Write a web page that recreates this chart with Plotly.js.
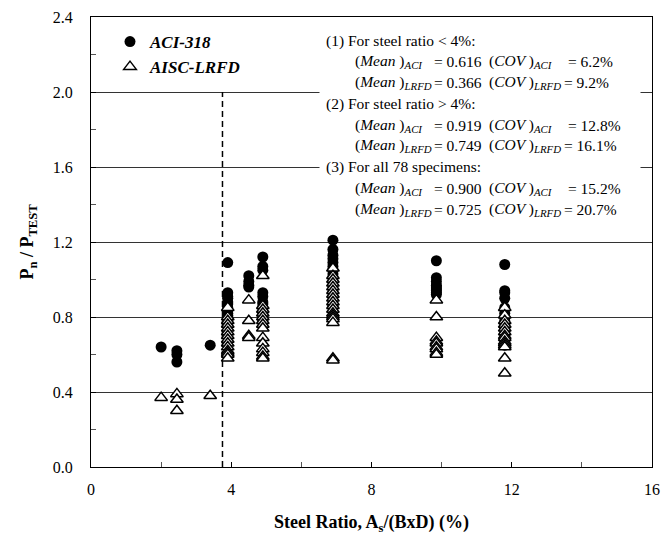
<!DOCTYPE html>
<html>
<head>
<meta charset="utf-8">
<script src="https://cdn.plot.ly/plotly-3.0.1.min.js"></script>
<style>html,body{margin:0;padding:0;background:#fff;}#chart{width:665px;height:538px;}</style>
</head>
<body>
<div id="chart"></div>
<script>
// ---- data ----
const groupRatio = [2.0, 2.45, 3.4, 3.9, 4.5, 4.9, 6.9, 9.85, 11.8];
const aciValues = [
  [0.64],
  [0.62, 0.60, 0.56],
  [0.65],
  [1.09, 0.93, 0.91, 0.90, 0.88, 0.87, 0.85, 0.84, 0.82, 0.81, 0.80, 0.79, 0.78, 0.77],
  [1.02, 0.99, 0.97, 0.96],
  [1.12, 1.07, 1.05, 0.93, 0.91, 0.88, 0.87, 0.85, 0.83, 0.82, 0.80, 0.79, 0.78, 0.77],
  [1.21, 1.16, 1.13, 1.11, 1.09, 1.07, 1.05, 1.03, 1.01, 0.99, 0.97, 0.95, 0.93, 0.91, 0.89, 0.87, 0.86, 0.85],
  [1.10, 1.01, 0.99, 0.97, 0.96, 0.95, 0.94, 0.93, 0.92],
  [1.08, 0.94, 0.93, 0.90, 0.85, 0.82, 0.80, 0.78, 0.76, 0.74, 0.72, 0.70, 0.67, 0.65]
];
const lrfdValues = [
  [0.37],
  [0.39, 0.36, 0.30],
  [0.38],
  [0.85, 0.80, 0.78, 0.76, 0.74, 0.72, 0.70, 0.68, 0.66, 0.64, 0.62, 0.61, 0.60, 0.58],
  [0.89, 0.78, 0.70, 0.69],
  [1.02, 0.86, 0.84, 0.82, 0.80, 0.78, 0.76, 0.74, 0.69, 0.66, 0.63, 0.61, 0.59, 0.58],
  [1.06, 1.02, 1.00, 0.98, 0.96, 0.94, 0.92, 0.90, 0.88, 0.86, 0.84, 0.82, 0.81, 0.80, 0.79, 0.77, 0.58, 0.57],
  [0.89, 0.80, 0.69, 0.67, 0.66, 0.64, 0.63, 0.61, 0.60],
  [0.85, 0.81, 0.78, 0.76, 0.74, 0.72, 0.70, 0.69, 0.67, 0.66, 0.65, 0.64, 0.58, 0.50]
];
const dividerX = [3.75, 3.75];
const dividerY = [0, 2.0];
const seriesNames = ['ACI-318', 'AISC-LRFD'];
const xTicks = [0, 4, 8, 12, 16];
const yTicks = [0, 0.4, 0.8, 1.2, 1.6, 2.0, 2.4];
const groupHeadings = ['(1) For steel ratio < 4%:', '(2) For steel ratio > 4%:', '(3) For all 78 specimens:'];
const meanACI = ['0.616', '0.919', '0.900'];
const meanLRFD = ['0.366', '0.749', '0.725'];
const covACI = ['6.2%', '12.8%', '15.2%'];
const covLRFD = ['9.2%', '16.1%', '20.7%'];

// ---- flatten ----
function flatten(vals) {
  const xs = [], ys = [];
  vals.forEach((g, i) => g.forEach(v => { xs.push(groupRatio[i]); ys.push(v); }));
  return {xs, ys};
}
const aci = flatten(aciValues);
const lrfd = flatten(lrfdValues);

const FONT = 'Liberation Serif, Times New Roman, serif';

const traces = [
  {x: dividerX, y: dividerY, mode: 'lines', showlegend: false, hoverinfo: 'skip',
   line: {color: '#000', width: 1.5, dash: '6px,4px'}},
  {x: aci.xs, y: aci.ys, mode: 'markers', name: seriesNames[0],
   marker: {symbol: 'circle', size: 11, color: '#000'}},
  {x: lrfd.xs, y: lrfd.ys, mode: 'markers', name: seriesNames[1],
   marker: {symbol: 'triangle-up', size: 11, color: '#fff', line: {color: '#000', width: 1.5}}}
];

// plot area in pixels
const L = 91, R = 652, T = 17, B = 467;
const px = x => (x - L) / (R - L);
const py = y => (B - y) / (B - T);

const annFont = {family: FONT, size: 15.5, color: '#000'};
const annotations = [{
  xref: 'paper', yref: 'paper', x: px(319), y: py(27), xanchor: 'left', yanchor: 'top',
  text: ' ', showarrow: false, width: 320, height: 196, bgcolor: '#fff', borderpad: 0
}];
function addText(text, xpx, ypx) {
  annotations.push({xref: 'paper', yref: 'paper', x: px(xpx), y: py(ypx),
    xanchor: 'left', yanchor: 'middle', text: text, showarrow: false, font: annFont});
}
groupHeadings.forEach((h, i) => {
  const y0 = 41 + 63 * i;
  addText(h, 324, y0);
  addText('(<i>Mean </i>)<sub><i>ACI</i></sub>', 353, y0 + 21);
  addText('= ' + meanACI[i], 432, y0 + 21);
  addText('(<i>COV </i>)<sub><i>ACI</i></sub>', 487, y0 + 21);
  addText('= ' + covACI[i], 566, y0 + 21);
  addText('(<i>Mean </i>)<sub><i>LRFD</i></sub>', 353, y0 + 42);
  addText('= ' + meanLRFD[i], 432, y0 + 42);
  addText('(<i>COV </i>)<sub><i>LRFD</i></sub>', 487, y0 + 42);
  addText('= ' + covLRFD[i], 562, y0 + 42);
});

const layout = {
  width: 665, height: 538,
  margin: {l: L, r: 665 - R, t: T, b: 538 - B, pad: 0},
  paper_bgcolor: '#fff', plot_bgcolor: '#fff',
  font: {family: FONT, color: '#000', size: 16},
  showlegend: true,
  legend: {x: px(110), y: py(24), xanchor: 'left', yanchor: 'top', bgcolor: 'rgba(0,0,0,0)',
    font: {family: FONT, size: 17, weight: 'bold', style: 'italic', color: '#000'},
    tracegroupgap: 0, itemwidth: 30},
  xaxis: {
    range: [0, 16], tickmode: 'array', tickvals: xTicks, ticktext: xTicks.map(String),
    ticks: 'inside', ticklen: 5, tickcolor: '#000',
    minor: {dtick: 2, tick0: 0, ticks: 'inside', ticklen: 5, tickcolor: '#555', showgrid: false},
    showgrid: false, zeroline: false, showline: true, linecolor: '#000', linewidth: 1, mirror: true,
    tickfont: {family: FONT, size: 16, color: '#000'}, ticklabelstandoff: 8,
    title: {text: '<b>Steel Ratio, A<sub>s</sub>/(BxD) (%)</b>', font: {family: FONT, size: 18, color: '#000'}, standoff: 18}
  },
  yaxis: {
    range: [0, 2.4], tickmode: 'array', tickvals: yTicks, ticktext: yTicks.map(v => v.toFixed(1)),
    ticks: 'inside', ticklen: 5, tickcolor: '#000',
    minor: {dtick: 0.2, tick0: 0, ticks: 'inside', ticklen: 5, tickcolor: '#555', showgrid: false},
    showgrid: true, gridcolor: '#333', gridwidth: 1,
    zeroline: false, showline: true, linecolor: '#000', linewidth: 1, mirror: true,
    tickfont: {family: FONT, size: 16, color: '#000'}, ticklabelstandoff: 14,
    title: {text: '<b>P<sub>n</sub> / P<sub>TEST</sub></b>', font: {family: FONT, size: 18, color: '#000'}, standoff: 14}
  },
  annotations: annotations
};

Plotly.newPlot('chart', traces, layout, {displayModeBar: false, staticPlot: true});
</script>
</body>
</html>
